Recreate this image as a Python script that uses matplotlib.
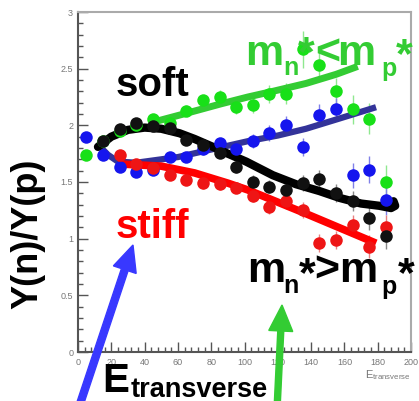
import numpy as np
import matplotlib
matplotlib.use("Agg")
import matplotlib.pyplot as plt
from matplotlib.patches import FancyArrow
from matplotlib.transforms import Affine2D
from matplotlib.ticker import MultipleLocator

plt.rcParams["font.family"] = ["Liberation Sans", "DejaVu Sans"]
plt.rcParams["mathtext.fontset"] = "custom"
plt.rcParams["mathtext.rm"] = "Liberation Sans"
plt.rcParams["mathtext.bf"] = "Liberation Sans:bold"

W, H = 419, 401

# ---- measured ratios Y(n)/Y(p) vs transverse energy ----
e_bins = [5, 15, 25, 35, 45, 55, 65, 75, 85, 95, 105, 115, 125, 135, 145, 155, 165, 175, 185]
green_pts = [1.74, 1.86, 1.95, 2.00, 2.06, 2.02, 2.13, 2.22, 2.25, 2.16, 2.18, 2.28, 2.28, 2.67, 2.53, 2.30, 2.14, 2.06, 1.50]
green_err = [0.03, 0.03, 0.03, 0.03, 0.04, 0.04, 0.05, 0.05, 0.06, 0.06, 0.07, 0.08, 0.09, 0.16, 0.12, 0.12, 0.13, 0.14, 0.15]
blue_pts = [1.90, 1.74, 1.63, 1.59, 1.61, 1.72, 1.72, 1.79, 1.84, 1.79, 1.86, 1.93, 2.00, 1.81, 2.09, 2.14, 1.56, 1.61, 1.34]
blue_err = [0.03, 0.03, 0.03, 0.03, 0.04, 0.04, 0.04, 0.05, 0.05, 0.06, 0.06, 0.07, 0.08, 0.08, 0.10, 0.10, 0.11, 0.12, 0.13]
red_pts = [np.nan, np.nan, 1.74, 1.66, 1.62, 1.56, 1.52, 1.49, 1.48, 1.45, 1.38, 1.28, 1.33, 1.25, 0.96, 0.99, 1.12, 0.93, 1.10]
red_err = [0.03, 0.03, 0.03, 0.03, 0.04, 0.04, 0.04, 0.05, 0.05, 0.05, 0.06, 0.06, 0.07, 0.07, 0.08, 0.08, 0.09, 0.10, 0.11]
black_pts = [np.nan, 1.86, 1.97, 2.02, 1.99, 1.98, 1.87, 1.83, 1.76, 1.63, 1.50, 1.46, 1.43, 1.49, 1.53, 1.40, 1.33, 1.18, 1.02]
black_err = [0.03, 0.03, 0.03, 0.03, 0.04, 0.04, 0.04, 0.05, 0.05, 0.05, 0.06, 0.06, 0.07, 0.07, 0.08, 0.08, 0.09, 0.10, 0.11]

# ---- model curves ----
green_line_x = [43, 66, 86, 102, 117, 137, 155, 168]
green_line_y = [2.02, 2.11, 2.19, 2.25, 2.30, 2.37, 2.45, 2.52]
blue_line_x = [12, 18, 24, 35, 60, 84, 102, 120, 137, 157, 179]
blue_line_y = [1.83, 1.74, 1.68, 1.67, 1.72, 1.80, 1.86, 1.91, 1.97, 2.06, 2.16]
black_line_x = [12, 20, 30, 40, 50, 61, 70, 81, 90, 101, 117, 131, 145, 157, 170, 181, 188, 190.5, 189.5]
black_line_y = [1.81, 1.90, 1.96, 1.98, 1.97, 1.93, 1.88, 1.81, 1.75, 1.68, 1.56, 1.48, 1.42, 1.36, 1.31, 1.29, 1.27, 1.29, 1.33]
red_line_x = [24, 50, 70, 90, 102, 137, 179]
red_line_y = [1.66, 1.64, 1.58, 1.49, 1.43, 1.22, 0.96]

fig = plt.figure(figsize=(W / 100, H / 100), dpi=100)
fig.patch.set_facecolor("white")
ax = fig.add_axes([78 / W, 1 - 352 / H, (411 - 78) / W, (352 - 12) / H])
ax.set_xlim(0, 200)
ax.set_ylim(0, 3)

pt_style = dict(fmt="o", markersize=9, elinewidth=1.0, capsize=0, markeredgewidth=0)
ax.errorbar(e_bins, green_pts, yerr=green_err, color="#18e018", ecolor="#8fe88f", **pt_style)
ax.errorbar(e_bins, blue_pts, yerr=blue_err, color="#1515ee", ecolor="#8080e8", **pt_style)
ax.errorbar(e_bins, red_pts, yerr=red_err, color="#ee1515", ecolor="#e88080", **pt_style)
ax.errorbar(e_bins, black_pts, yerr=black_err, color="#111111", ecolor="#888888", **pt_style)

ax.plot(green_line_x, green_line_y, color="#33cc33", lw=5, solid_capstyle="butt")
ax.plot(blue_line_x, blue_line_y, color="#333399", lw=4.5, solid_capstyle="butt")
ax.plot(red_line_x, red_line_y, color="#ff0000", lw=5.5, solid_capstyle="butt")
ax.plot(black_line_x, black_line_y, color="black", lw=6, solid_capstyle="round",
        solid_joinstyle="round")

# ROOT-like frame and ticks
for side in ("top", "right"):
    ax.spines[side].set_color("#aaaaaa")
    ax.spines[side].set_linewidth(1.5)
for side in ("left", "bottom"):
    ax.spines[side].set_color("#555555")
    ax.spines[side].set_linewidth(1.5)
ax.xaxis.set_major_locator(MultipleLocator(20))
ax.xaxis.set_minor_locator(MultipleLocator(4))
ax.yaxis.set_minor_locator(MultipleLocator(0.1))
ax.set_yticks([0, 0.5, 1, 1.5, 2, 2.5, 3])
ax.set_yticklabels(["0", "0.5", "1", "1.5", "2", "2.5", "3"])
ax.tick_params(which="both", direction="in", color="#555555", top=False, right=False,
               labelsize=6.5, labelcolor="#777777")
ax.tick_params(which="major", length=7, width=1)
ax.tick_params(which="minor", length=3.5, width=1)
ax.tick_params(axis="x", pad=4)
ax.set_xlabel(r"$\mathrm{E}_{\mathrm{transverse}}$", fontsize=8, color="#777777",
              loc="right", labelpad=1)

# figure pixel frame (origin top-left)
px = Affine2D().scale(1, -1).translate(0, H)


def ftext(x, y, s, **kw):
    fig.text(x / W, 1 - y / H, s, **kw)


def bold_pieces(pieces, color):
    # each piece: (text, left x, baseline y, font size)
    for s, x, y, size in pieces:
        ftext(x, y, s, fontsize=size, fontweight="bold", color=color, va="baseline")


ftext(28, 234, "Y(n)/Y(p)", rotation=90, fontsize=26, fontweight="bold",
      ha="center", va="center", color="black")
ftext(116, 96, "soft", fontsize=29, fontweight="bold", color="black", va="baseline")
ftext(116, 238, "stiff", fontsize=29, fontweight="bold", color="#ff0000", va="baseline")

big, small = 31, 18
bold_pieces([("m", 245, 65, big), ("n", 283, 75, small), ("*", 298, 65, big),
             ("<", 315, 65, big), ("m", 337, 65, big), ("p", 381, 76, small),
             ("*", 396, 67, big)], "#33cc33")
bold_pieces([("m", 247, 282, big), ("n", 283, 293, small), ("*", 299, 286, big),
             (">", 314, 282, big), ("m", 339, 282, big), ("p", 381, 294, small),
             ("*", 398, 286, big)], "black")

ftext(102, 392, "E", fontsize=29, fontweight="bold", color="black", va="baseline")
ftext(131, 397, "transverse", fontsize=19.5, fontweight="bold", color="black", va="baseline")

# pointing arrows
fig.add_artist(FancyArrow(78, 410, 133 - 78, 245 - 410, width=7, head_width=24,
                          head_length=26, length_includes_head=True,
                          color="#3838ff", transform=px))
fig.add_artist(FancyArrow(277, 410, 282 - 277, 305 - 410, width=6, head_width=24,
                          head_length=26, length_includes_head=True,
                          color="#33cc33", transform=px))

fig.savefig("out.png", dpi=100)
